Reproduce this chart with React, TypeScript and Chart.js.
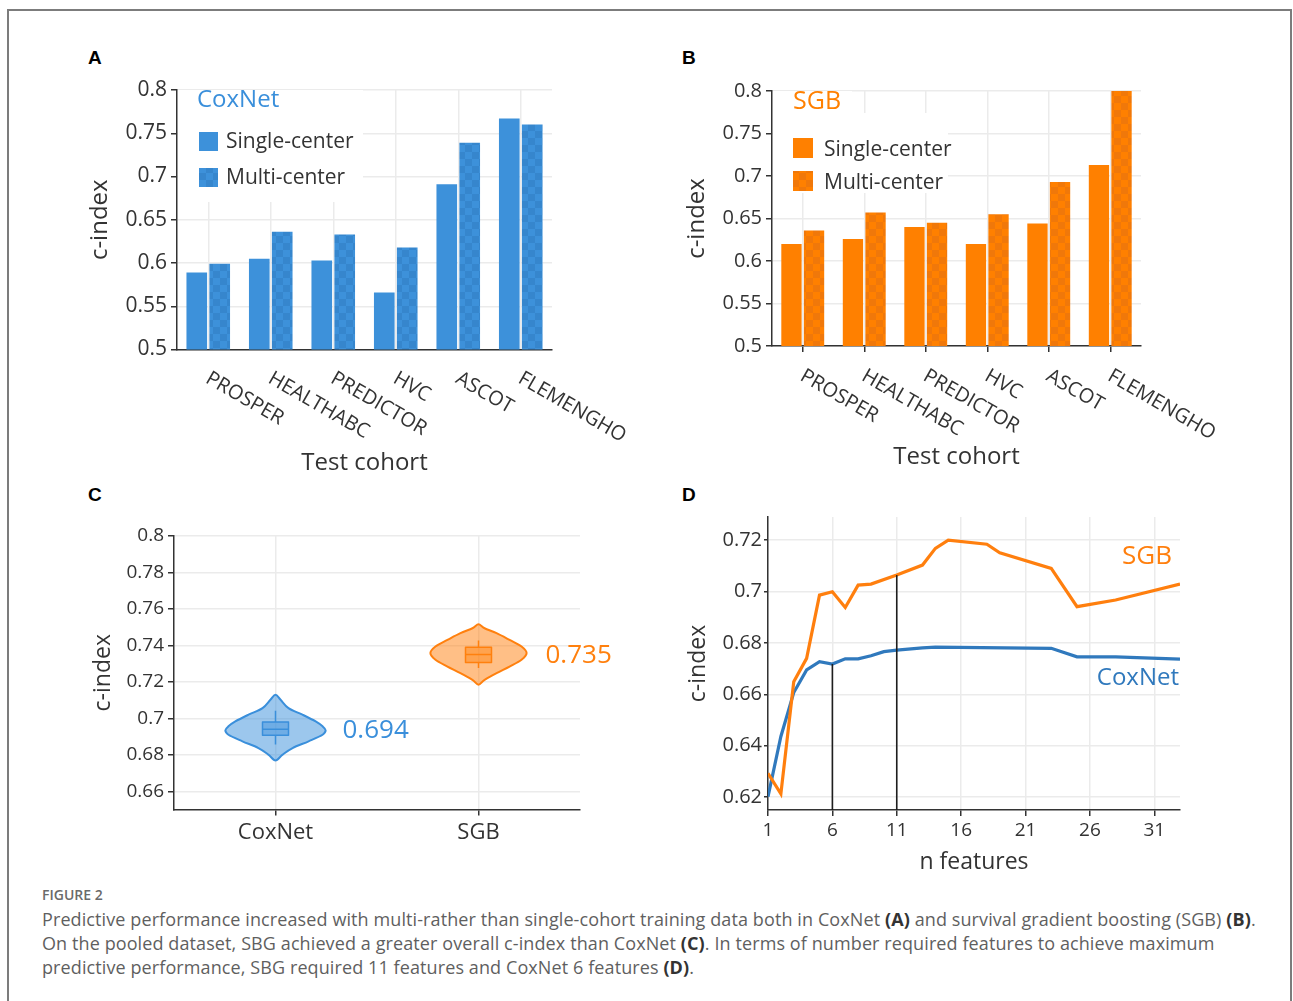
import React, { useEffect, useRef } from 'react';
import { Chart, registerables } from 'chart.js';

Chart.register(...registerables);

const FONT = "'Open Sans', 'DejaVu Sans', sans-serif";
const TEXT = '#333333';
const GRID = '#ebebeb';
const BLUE = '#3d91da';
const BLUE_DARK = '#3686cd';
const ORANGE = '#ff8000';
const ORANGE_DARK = '#f0780a';
const VIOLIN_BLUE = '#3a8fdb';
const VIOLIN_ORANGE = '#ff800e';
const LINE_BLUE = '#3079bd';
const LINE_ORANGE = '#ff7f0e';

// ---------- Panels A & B : c-index per test cohort ----------
const cohorts = ['PROSPER', 'HEALTHABC', 'PREDICTOR', 'HVC', 'ASCOT', 'FLEMENGHO'];
const seriesNames = ['Single-center', 'Multi-center'];
const coxSingle = [0.589, 0.605, 0.603, 0.566, 0.691, 0.767];
const coxMulti = [0.599, 0.636, 0.633, 0.618, 0.739, 0.760];
const sgbSingle = [0.620, 0.626, 0.640, 0.620, 0.644, 0.713];
const sgbMulti = [0.636, 0.657, 0.645, 0.655, 0.693, 0.800];
const barTicks = [0.5, 0.55, 0.6, 0.65, 0.7, 0.75, 0.8];

// ---------- Panel C : pooled c-index violins ----------
const violinGroups = ['CoxNet', 'SGB'];
const coxViolinValues = [0.7129, 0.7102, 0.7056, 0.7020, 0.6983, 0.6956, 0.6934, 0.6910, 0.6874, 0.6837, 0.6801, 0.6769];
const coxViolinHalfWidths = [0, 0.025, 0.064, 0.133, 0.198, 0.232, 0.247, 0.232, 0.163, 0.084, 0.035, 0];
const sgbViolinValues = [0.7516, 0.7494, 0.7467, 0.7430, 0.7394, 0.7358, 0.7321, 0.7284, 0.7248, 0.7211, 0.7184];
const sgbViolinHalfWidths = [0, 0.030, 0.089, 0.153, 0.212, 0.237, 0.212, 0.153, 0.089, 0.030, 0];
// whisker low, q1, median, q3, whisker high
const coxBox = [0.6856, 0.6907, 0.694, 0.6980, 0.7042];
const sgbBox = [0.7276, 0.7306, 0.735, 0.7390, 0.7427];
const violinTicks = [0.66, 0.68, 0.7, 0.72, 0.74, 0.76, 0.78, 0.8];

// ---------- Panel D : c-index vs number of features ----------
const nFeaturesCox = [1, 2, 3, 4, 5, 6, 7, 8, 9, 10, 11, 13, 14, 23, 25, 28, 33];
const coxCurve = [0.6202, 0.6436, 0.6607, 0.6695, 0.6727, 0.6718, 0.6738, 0.6738, 0.6750, 0.6766, 0.6772, 0.6781, 0.6784, 0.6779, 0.6746, 0.6746, 0.6737];
const nFeaturesSgb = [1, 2, 3, 4, 5, 6, 7, 8, 9, 11, 13, 14, 15, 18, 19, 23, 25, 28, 33];
const sgbCurve = [0.6293, 0.6213, 0.6649, 0.6740, 0.6986, 0.6999, 0.6938, 0.7025, 0.7029, 0.7064, 0.7103, 0.7168, 0.7200, 0.7184, 0.7151, 0.7090, 0.6941, 0.6967, 0.7029];
const coxSelectedN = 6;
const sgbSelectedN = 11;
const featureTicks = [1, 6, 11, 16, 21, 26, 31];
const featureRange = [1, 33];
const lineTicks = [0.62, 0.64, 0.66, 0.68, 0.7, 0.72];
const lineRange = [0.615, 0.729];

// ---------- helpers ----------
function makeChecker(base: string, dark: string, size: number): any {
  const c = document.createElement('canvas');
  c.width = size * 2;
  c.height = size * 2;
  const g = c.getContext('2d')!;
  g.fillStyle = base;
  g.fillRect(0, 0, size * 2, size * 2);
  g.fillStyle = dark;
  g.fillRect(0, 0, size, size);
  g.fillRect(size, size, size, size);
  return g.createPattern(c, 'repeat') || base;
}

function alpha(hex: string, a: number) {
  const r = parseInt(hex.slice(1, 3), 16);
  const g = parseInt(hex.slice(3, 5), 16);
  const b = parseInt(hex.slice(5, 7), 16);
  return `rgba(${r},${g},${b},${a})`;
}

function fixedTicks(values: number[]) {
  return (scale: any) => {
    scale.ticks = values.map((v) => ({ value: v }));
  };
}

function ChartCanvas({ left, top, width, height, build }: any) {
  const ref = useRef<HTMLCanvasElement>(null);
  useEffect(() => {
    const chart = new Chart(ref.current as HTMLCanvasElement, build());
    return () => chart.destroy();
  }, []);
  return (
    <canvas
      ref={ref}
      width={width}
      height={height}
      style={{ position: 'absolute', left, top, width, height }}
    />
  );
}

// ---------- bar panels ----------
type BarSpec = {
  name: string;
  nameColor: string;
  single: number[];
  multi: number[];
  base: string;
  dark: string;
  yAxisWidth: number;
  padTop: number;
  padRight: number;
  xAxisHeight: number;
  tickSize: number;
  yTitlePad: number;
  xTickMarks: boolean;
  labelDx: number;
  labelDy: number;
  masks: number[][];
  nameDx: number;
  nameDy: number;
  nameSize: number;
  swatchDx: number;
  swatchDy: number[];
  swatch: number;
  textDx: number;
  textDy: number;
  textSize: number;
};

function buildBar(spec: BarSpec) {
  return () => {
    const multiFill = makeChecker(spec.base, spec.dark, 7);
    const fills = [spec.base, multiFill];
    const decor = {
      id: 'barDecor',
      beforeDatasetsDraw(chart: any) {
        const { ctx, chartArea: ca } = chart;
        ctx.save();
        ctx.fillStyle = '#ffffff';
        spec.masks.forEach(([x, y, w, h]) => ctx.fillRect(ca.left + x, ca.top + y, w, h));
        ctx.restore();
      },
      afterDraw(chart: any) {
        const { ctx, chartArea: ca, scales } = chart;
        ctx.save();
        ctx.textAlign = 'left';
        ctx.textBaseline = 'middle';
        ctx.font = `${spec.nameSize}px ${FONT}`;
        ctx.fillStyle = spec.nameColor;
        ctx.fillText(spec.name, ca.left + spec.nameDx, ca.top + spec.nameDy);
        chart.data.datasets.forEach((ds: any, i: number) => {
          const sx = ca.left + spec.swatchDx;
          const sy = ca.top + spec.swatchDy[i];
          ctx.fillStyle = fills[i];
          ctx.fillRect(sx, sy, spec.swatch, spec.swatch);
          ctx.font = `${spec.textSize}px ${FONT}`;
          ctx.fillStyle = TEXT;
          ctx.fillText(ds.label, ca.left + spec.textDx, sy + spec.swatch / 2 + spec.textDy);
        });
        ctx.font = `20px ${FONT}`;
        ctx.fillStyle = TEXT;
        ctx.textBaseline = 'top';
        (chart.data.labels as string[]).forEach((lab, i) => {
          const x = scales.x.getPixelForValue(i);
          ctx.save();
          ctx.translate(x + spec.labelDx, ca.bottom + spec.labelDy);
          ctx.rotate((30 * Math.PI) / 180);
          ctx.fillText(lab, 0, 0);
          ctx.restore();
        });
        ctx.restore();
      },
    };
    return {
      type: 'bar',
      data: {
        labels: cohorts,
        datasets: [
          { label: seriesNames[0], data: spec.single, backgroundColor: fills[0], borderWidth: 0, categoryPercentage: 0.734, barPercentage: 0.9 },
          { label: seriesNames[1], data: spec.multi, backgroundColor: fills[1], borderWidth: 0, categoryPercentage: 0.734, barPercentage: 0.9 },
        ],
      },
      options: {
        responsive: false,
        animation: false,
        devicePixelRatio: 1,
        layout: { padding: { top: spec.padTop, right: spec.padRight, left: 0, bottom: 0 } },
        plugins: { legend: { display: false }, tooltip: { enabled: false } },
        scales: {
          x: {
            type: 'category',
            offset: true,
            grid: { display: true, offset: false, color: GRID, lineWidth: 1.5, drawTicks: spec.xTickMarks, tickLength: 6, tickColor: TEXT, tickWidth: 1.5 },
            border: { display: true, color: TEXT, width: 1.5 },
            ticks: { display: false },
            title: { display: true, text: 'Test cohort', color: TEXT, font: { family: FONT, size: 24 }, padding: { top: 4, bottom: 4 } },
            afterFit: (s: any) => { s.height = spec.xAxisHeight; },
          },
          y: {
            min: 0.5,
            max: 0.8,
            afterBuildTicks: fixedTicks(barTicks),
            grid: { color: GRID, lineWidth: 1.5, tickColor: TEXT, tickLength: 6, tickWidth: 1.5 },
            border: { display: true, color: TEXT, width: 1.5 },
            ticks: { color: TEXT, font: { family: FONT, size: spec.tickSize }, padding: 4, callback: (v: any) => String(v) },
            title: { display: true, text: 'c-index', color: TEXT, font: { family: FONT, size: 24 }, padding: { top: spec.yTitlePad, bottom: 4 } },
            afterFit: (s: any) => { s.width = spec.yAxisWidth; },
          },
        },
      },
      plugins: [decor],
    } as any;
  };
}

const specA: BarSpec = {
  name: 'CoxNet', nameColor: VIOLIN_BLUE, single: coxSingle, multi: coxMulti, base: BLUE, dark: BLUE_DARK,
  yAxisWidth: 97, padTop: 50, padRight: 88, xAxisHeight: 132.5, tickSize: 21, yTitlePad: 5.6, xTickMarks: false,
  labelDx: 4, labelDy: 19,
  masks: [[1, 0, 185, 112]],
  nameDx: 20, nameDy: 10, nameSize: 24,
  swatchDx: 22, swatchDy: [42, 78], swatch: 19, textDx: 49, textDy: 1, textSize: 21,
};

const specB: BarSpec = {
  name: 'SGB', nameColor: ORANGE, single: sgbSingle, multi: sgbMulti, base: ORANGE, dark: ORANGE_DARK,
  yAxisWidth: 92, padTop: 51, padRight: 99, xAxisHeight: 130, tickSize: 20, yTitlePad: 2.6, xTickMarks: true,
  labelDx: 4, labelDy: 20,
  masks: [[1, 22, 175, 80], [1, 0, 79, 22]],
  nameDx: 21, nameDy: 11, nameSize: 25,
  swatchDx: 21, swatchDy: [47, 80], swatch: 20, textDx: 52, textDy: 2, textSize: 21,
};

// ---------- violin panel ----------
function buildViolin() {
  const profiles = [
    { values: coxViolinValues, half: coxViolinHalfWidths, box: coxBox, color: VIOLIN_BLUE },
    { values: sgbViolinValues, half: sgbViolinHalfWidths, box: sgbBox, color: VIOLIN_ORANGE },
  ];
  const boxHalf = 0.064;
  const violinPlugin = {
    id: 'violins',
    beforeDatasetsDraw(chart: any) {
      const { ctx, scales } = chart;
      const xs = scales.x;
      const ys = scales.y;
      profiles.forEach((p, gi) => {
        const pts: number[][] = [];
        p.values.forEach((v, k) => pts.push([xs.getPixelForValue(gi + p.half[k]), ys.getPixelForValue(v)]));
        for (let k = p.values.length - 2; k >= 1; k--) {
          pts.push([xs.getPixelForValue(gi - p.half[k]), ys.getPixelForValue(p.values[k])]);
        }
        const n = pts.length;
        ctx.save();
        ctx.beginPath();
        ctx.moveTo(pts[0][0], pts[0][1]);
        for (let i = 0; i < n; i++) {
          const p0 = pts[(i - 1 + n) % n];
          const p1 = pts[i];
          const p2 = pts[(i + 1) % n];
          const p3 = pts[(i + 2) % n];
          const c1x = p1[0] + (p2[0] - p0[0]) / 6;
          const c1y = p1[1] + (p2[1] - p0[1]) / 6;
          const c2x = p2[0] - (p3[0] - p1[0]) / 6;
          const c2y = p2[1] - (p3[1] - p1[1]) / 6;
          ctx.bezierCurveTo(c1x, c1y, c2x, c2y, p2[0], p2[1]);
        }
        ctx.closePath();
        ctx.fillStyle = alpha(p.color, 0.5);
        ctx.fill();
        ctx.lineWidth = 2;
        ctx.strokeStyle = p.color;
        ctx.lineJoin = 'round';
        ctx.stroke();

        const [wl, q1, med, q3, wh] = p.box;
        const cx = xs.getPixelForValue(gi);
        const bx0 = xs.getPixelForValue(gi - boxHalf);
        const bx1 = xs.getPixelForValue(gi + boxHalf);
        const yq1 = ys.getPixelForValue(q1);
        const yq3 = ys.getPixelForValue(q3);
        ctx.lineWidth = 1.5;
        ctx.beginPath();
        ctx.moveTo(cx, ys.getPixelForValue(wh));
        ctx.lineTo(cx, yq3);
        ctx.moveTo(cx, yq1);
        ctx.lineTo(cx, ys.getPixelForValue(wl));
        ctx.stroke();
        ctx.fillStyle = alpha(p.color, 0.45);
        ctx.fillRect(bx0, yq3, bx1 - bx0, yq1 - yq3);
        ctx.strokeRect(bx0, yq3, bx1 - bx0, yq1 - yq3);
        ctx.beginPath();
        ctx.moveTo(bx0, ys.getPixelForValue(med));
        ctx.lineTo(bx1, ys.getPixelForValue(med));
        ctx.stroke();

        ctx.font = `26px ${FONT}`;
        ctx.fillStyle = p.color;
        ctx.textAlign = 'left';
        ctx.textBaseline = 'middle';
        ctx.fillText(med.toFixed(3), cx + 67, ys.getPixelForValue(med) + 1);
        ctx.restore();
      });
    },
  };
  return {
    type: 'scatter',
    data: {
      datasets: [
        { label: 'median', data: [{ x: 0, y: coxBox[2] }, { x: 1, y: sgbBox[2] }], pointRadius: 0, showLine: false },
      ],
    },
    options: {
      responsive: false,
      animation: false,
      devicePixelRatio: 1,
      layout: { padding: { top: 56, right: 40, left: 0, bottom: 0 } },
      plugins: { legend: { display: false }, tooltip: { enabled: false } },
      scales: {
        x: {
          type: 'linear',
          min: -0.5,
          max: 1.5,
          afterBuildTicks: fixedTicks([0, 1]),
          grid: { color: GRID, lineWidth: 1.5, tickColor: TEXT, tickLength: 6, tickWidth: 1.5 },
          border: { display: true, color: TEXT, width: 1.5 },
          ticks: { color: TEXT, font: { family: FONT, size: 22 }, padding: 4, callback: (v: any) => violinGroups[v] },
          afterFit: (s: any) => { s.height = 50.5; },
        },
        y: {
          min: 0.65,
          max: 0.8,
          afterBuildTicks: fixedTicks(violinTicks),
          grid: { color: GRID, lineWidth: 1.5, tickColor: TEXT, tickLength: 6, tickWidth: 1.5 },
          border: { display: true, color: TEXT, width: 1.5 },
          ticks: { color: TEXT, font: { family: FONT, size: 19 }, padding: 4, callback: (v: any) => String(v) },
          title: { display: true, text: 'c-index', color: TEXT, font: { family: FONT, size: 23 }, padding: { top: 9.2, bottom: 4 } },
          afterFit: (s: any) => { s.width = 94; },
        },
      },
    },
    plugins: [violinPlugin],
  } as any;
}

// ---------- line panel ----------
function buildLines() {
  const coxAtSel = coxCurve[nFeaturesCox.indexOf(coxSelectedN)];
  const sgbAtSel = sgbCurve[nFeaturesSgb.indexOf(sgbSelectedN)];
  const labelPlugin = {
    id: 'lineLabels',
    afterDraw(chart: any) {
      const { ctx, chartArea: ca } = chart;
      ctx.save();
      ctx.textAlign = 'right';
      ctx.textBaseline = 'middle';
      ctx.font = `26px ${FONT}`;
      ctx.fillStyle = LINE_ORANGE;
      ctx.fillText('SGB', ca.right - 8, ca.top + 40);
      ctx.font = `24px ${FONT}`;
      ctx.fillStyle = LINE_BLUE;
      ctx.fillText('CoxNet', ca.right - 1, ca.top + 161);
      ctx.restore();
    },
  };
  return {
    type: 'line',
    data: {
      datasets: [
        { label: 'CoxNet selected', data: [{ x: coxSelectedN, y: lineRange[0] }, { x: coxSelectedN, y: coxAtSel }], borderColor: '#1e1e1e', borderWidth: 1.6, pointRadius: 0 },
        { label: 'SGB selected', data: [{ x: sgbSelectedN, y: lineRange[0] }, { x: sgbSelectedN, y: sgbAtSel }], borderColor: '#1e1e1e', borderWidth: 1.6, pointRadius: 0 },
        { label: 'SGB', data: nFeaturesSgb.map((n, i) => ({ x: n, y: sgbCurve[i] })), borderColor: LINE_ORANGE, borderWidth: 3.2, pointRadius: 0, tension: 0 },
        { label: 'CoxNet', data: nFeaturesCox.map((n, i) => ({ x: n, y: coxCurve[i] })), borderColor: LINE_BLUE, borderWidth: 3.2, pointRadius: 0, tension: 0 },
      ],
    },
    options: {
      responsive: false,
      animation: false,
      devicePixelRatio: 1,
      layout: { padding: { top: 37, right: 60, left: 0, bottom: 0 } },
      plugins: { legend: { display: false }, tooltip: { enabled: false } },
      scales: {
        x: {
          type: 'linear',
          min: featureRange[0],
          max: featureRange[1],
          afterBuildTicks: fixedTicks(featureTicks),
          grid: { color: GRID, lineWidth: 1.5, tickColor: TEXT, tickLength: 6, tickWidth: 1.5 },
          border: { display: true, color: TEXT, width: 1.5 },
          ticks: { color: TEXT, font: { family: FONT, size: 19 }, padding: 3, callback: (v: any) => String(v) },
          title: { display: true, text: 'n features', color: TEXT, font: { family: FONT, size: 23 }, padding: { top: 4, bottom: 4 } },
          afterFit: (s: any) => { s.height = 70; },
        },
        y: {
          min: lineRange[0],
          max: lineRange[1],
          afterBuildTicks: fixedTicks(lineTicks),
          grid: { color: GRID, lineWidth: 1.5, tickColor: TEXT, tickLength: 4, tickWidth: 1.5 },
          border: { display: true, color: TEXT, width: 1.5 },
          ticks: { color: TEXT, font: { family: FONT, size: 20 }, padding: 2, callback: (v: any) => String(v) },
          title: { display: true, text: 'c-index', color: TEXT, font: { family: FONT, size: 23 }, padding: { top: 4.2, bottom: 4 } },
          afterFit: (s: any) => { s.width = 88; },
        },
      },
    },
    plugins: [labelPlugin],
  } as any;
}

const letterStyle = (left: number, top: number): React.CSSProperties => ({
  position: 'absolute',
  left,
  top,
  fontFamily: "'Liberation Sans', Arial, sans-serif",
  fontWeight: 700,
  fontSize: 19,
  lineHeight: '22px',
  color: '#000',
});

const captionLine = (top: number): React.CSSProperties => ({
  position: 'absolute',
  left: 42,
  top,
  fontFamily: FONT,
  fontSize: 18,
  letterSpacing: '0.1px',
  lineHeight: '24px',
  color: '#5f5f5f',
  whiteSpace: 'nowrap',
});

const B = ({ children }: any) => <b style={{ color: '#333', fontWeight: 700 }}>{children}</b>;

export default function App() {
  return (
    <div style={{ position: 'absolute', left: 0, top: 0, width: 1293, height: 1001, overflow: 'hidden', background: '#fff' }}>
      <div style={{ position: 'absolute', left: 7, top: 9, width: 1285, height: 1100, border: '2px solid #7c7c7c', boxSizing: 'border-box' }} />
      <div style={letterStyle(88, 47)}>A</div>
      <div style={letterStyle(682, 47)}>B</div>
      <div style={letterStyle(88, 484)}>C</div>
      <div style={letterStyle(682, 484)}>D</div>
      <ChartCanvas left={80} top={40} width={560} height={442} build={buildBar(specA)} />
      <ChartCanvas left={680} top={40} width={560} height={436} build={buildBar(specB)} />
      <ChartCanvas left={80} top={480} width={540} height={380} build={buildViolin} />
      <ChartCanvas left={680} top={480} width={560} height={400} build={buildLines} />
      <div style={{ position: 'absolute', left: 42, top: 886, fontFamily: FONT, fontSize: 14, fontWeight: 600, color: '#6a6a6a', lineHeight: '18px' }}>FIGURE 2</div>
      <div style={captionLine(907)}>
        Predictive performance increased with multi-rather than single-cohort training data both in CoxNet <B>(A)</B> and survival gradient boosting (SGB) <B>(B)</B>.
      </div>
      <div style={captionLine(931)}>
        On the pooled dataset, SBG achieved a greater overall c-index than CoxNet <B>(C)</B>. In terms of number required features to achieve maximum
      </div>
      <div style={captionLine(955)}>
        predictive performance, SBG required 11 features and CoxNet 6 features <B>(D)</B>.
      </div>
    </div>
  );
}
